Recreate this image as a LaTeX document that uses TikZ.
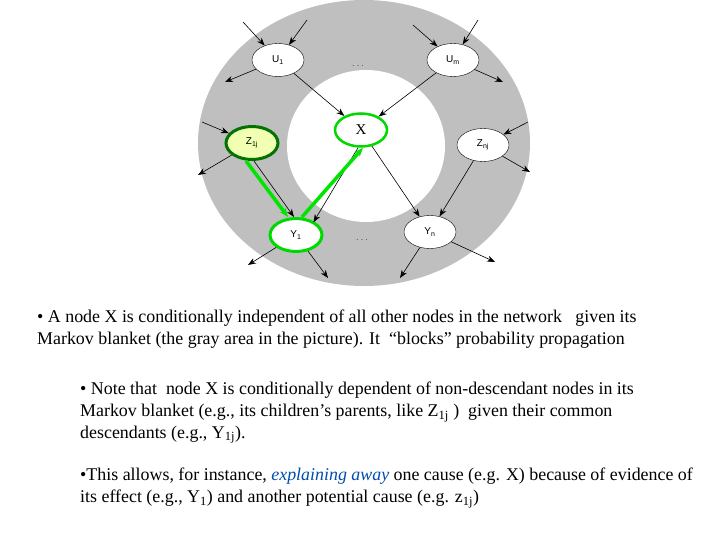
\documentclass[tikz,border=0pt]{standalone}
\usepackage{fontspec}
\setmainfont{Liberation Serif}
\newfontfamily\sans{Liberation Sans}
\usetikzlibrary{arrows.meta,shapes.geometric}
\begin{document}
\begin{tikzpicture}[x=1pt,y=-1pt,
  nd/.style={ellipse,draw=black,fill=white,minimum width=52pt,minimum height=33pt,inner sep=0pt,font=\sans\fontsize{10}{10}\selectfont},
  arr/.style={-{Stealth[length=8pt,width=6pt]},semithick},
  garr/.style={-{Stealth[length=9pt,width=7pt]},line width=3.5pt,draw=green!90!black},
  txt/.style={anchor=north west,align=left,inner sep=0pt,font=\fontsize{17.9}{21.8}\selectfont}]
\useasboundingbox (0,0) rectangle (720,540);
\fill[gray!50] (364,143) ellipse [x radius=166,y radius=143];
\fill[white] (366,146) ellipse [x radius=79,y radius=76];
\node[nd,draw=green!85!black,line width=2.5pt,font=\fontsize{15}{15}\selectfont] (x) at (361,130) {X};
\node[nd] (u1) at (278,60) {U\textsubscript{1}};
\node[nd] (um) at (453,60) {U\textsubscript{m}};
\node[nd,draw=green!45!black,fill=green!20!yellow!30,line width=3pt] (z1) at (252,143) {Z\textsubscript{1j}};
\node[nd] (zn) at (483,145) {Z\textsubscript{nj}};
\node[nd,draw=green!85!black,line width=3pt] (y1) at (296,235) {Y\textsubscript{1}};
\node[nd] (yn) at (430,232) {Y\textsubscript{n}};
\node[font=\sans\fontsize{7}{7}\selectfont] (d1) at (358,66) {. . .};
\node[font=\sans\fontsize{7}{7}\selectfont] (d2) at (362,240) {. . .};
\coordinate (a1) at (243,22); \coordinate (a2) at (307,20); \coordinate (a3) at (225,82);
\coordinate (b1) at (413,25); \coordinate (b2) at (478,20); \coordinate (b3) at (503,82);
\coordinate (c1) at (202,122); \coordinate (c2) at (198,175);
\coordinate (e1) at (528,122); \coordinate (e2) at (530,172);
\coordinate (f1) at (248,265); \coordinate (f2) at (328,278);
\coordinate (g1) at (400,278); \coordinate (g2) at (495,262);
\draw[arr] (a1) -- (u1); \draw[arr] (a2) -- (u1); \draw[arr] (u1) -- (a3);
\draw[arr] (b1) -- (um); \draw[arr] (b2) -- (um); \draw[arr] (um) -- (b3);
\draw[arr] (c1) -- (z1); \draw[arr] (z1) -- (c2);
\draw[arr] (e1) -- (zn); \draw[arr] (zn) -- (e2);
\draw[arr] (y1) -- (f1); \draw[arr] (y1) -- (f2);
\draw[arr] (yn) -- (g1); \draw[arr] (yn) -- (g2);
\draw[arr] (u1) -- (x); \draw[arr] (um) -- (x);
\draw[arr] (x) -- (yn); \draw[arr] (zn) -- (yn);
\draw[arr] ([xshift=2pt]z1.south) -- ([xshift=-2pt]y1.north);
\draw[arr] ([xshift=-3pt]x.south) -- ([xshift=-2pt]y1.north east);
\draw[garr] ([xshift=-6pt]z1.south) -- ([xshift=-8pt]y1.north);
\draw[garr] ([xshift=6pt]y1.north) -- ([xshift=2pt]x.south);
\node[txt] (t1) at (37,310) {• A node X is conditionally independent of all other nodes in the network\ \ \ given its\\Markov blanket (the gray area in the picture). It \ “blocks” probability propagation};
\node[txt] (t2) at (80,382) {• Note that\ \ node X is conditionally dependent of non-descendant nodes in its\\Markov blanket (e.g., its children’s parents, like Z\textsubscript{1j} )\ \ given their common\\descendants (e.g., Y\textsubscript{1j}).};
\node[txt] (t3) at (80,468) {•This allows, for instance, \textcolor{blue!55!black!70!cyan}{\itshape explaining away} one cause (e.g. X) because of evidence of\\its effect (e.g., Y\textsubscript{1}) and another potential cause (e.g. z\textsubscript{1j})};
\end{tikzpicture}
\end{document}
